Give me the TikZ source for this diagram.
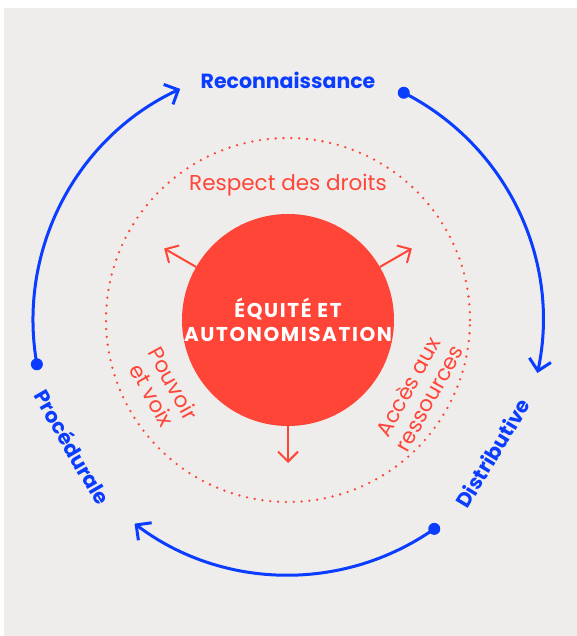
\documentclass[tikz,border=0pt]{standalone}
\usepackage{fontspec}
\setmainfont{Poppins}
\usepackage{tikz}
\usetikzlibrary{arrows.meta}
\definecolor{fundo}{HTML}{EFEDEB}
\definecolor{cAzul}{HTML}{0A3DFF}
\definecolor{cVerm}{HTML}{FF4538}

\begin{document}
\begin{tikzpicture}[x=1pt, y=1pt, >={Straight Barb[length=10pt,width=20pt]},
  ciclo/.style={cAzul, line width=3pt, -{Straight Barb[length=11pt,width=22pt]}},
  rotulo/.style={cAzul, font=\bfseries\fontsize{20.5}{24}\selectfont},
  eixo/.style={cVerm, font=\fontsize{21.5}{24}\selectfont, align=center}]
  \useasboundingbox (0,0) rectangle (577,636);
  \fill[fundo] (4,0) rectangle (577,628);
  \coordinate (C) at (288,316);
  % cercle pointillé
  \draw[cVerm, line width=2.6pt, line cap=round, dash pattern=on 0pt off 7.85pt] (C) circle[radius=182pt];
  % arcs bleus
  \foreach \s/\e in {190/115, 63/-12, -55/-127}{
    \coordinate (ini) at ([shift={(\s:255)}]C);
    \fill[cAzul] (ini) circle (6pt);
    \draw[ciclo] (ini) arc[start angle=\s, end angle=\e, radius=255pt];
  }
  % cercle central
  \node[circle, fill=cVerm, minimum size=212pt, inner sep=0pt, text=white, align=center,
    font=\bfseries\fontsize{20}{24}\selectfont\addfontfeatures{LetterSpace=8}] (equite) at (C) {ÉQUITÉ ET\\AUTONOMISATION};
  \foreach \a in {30,150,270}{
    \coordinate (p\a) at ([shift={(\a:143)}]C);
    \draw[->, cVerm, line width=2pt] (equite.\a) -- (p\a);
  }
  % textes
  \node[rotulo] (recon) at ([shift={(90:240)}]C) {Reconnaissance};
  \node[rotulo, rotate=59] (distr) at ([shift={(-33:244)}]C) {Distributive};
  \node[rotulo, rotate=-60] (proc) at ([shift={(210.5:250)}]C) {Procédurale};
  \node[eixo] (droits) at ([shift={(90:135)}]C) {Respect des droits};
  \node[eixo, rotate=-61] (voix) at ([shift={(209:143)}]C) {Pouvoir\\et voix};
  \node[eixo, rotate=61] (acces) at ([shift={(-29:149)}]C) {Accès aux\\ressources};
\end{tikzpicture}
\end{document}
